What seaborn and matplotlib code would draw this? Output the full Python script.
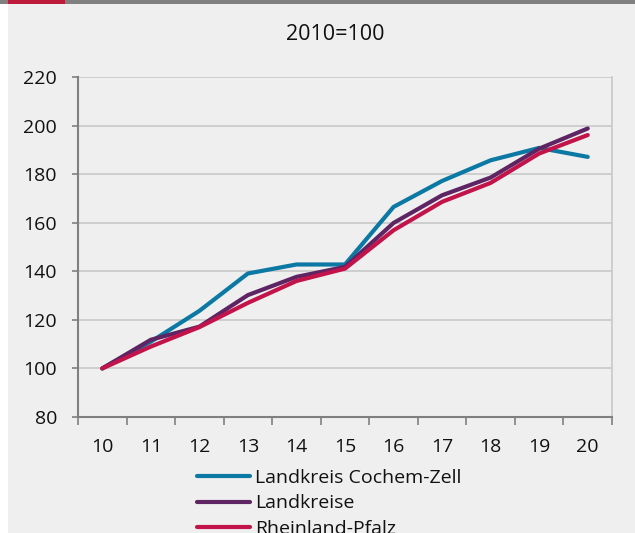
import matplotlib
matplotlib.use("Agg")
import matplotlib.pyplot as plt
from matplotlib.patches import Rectangle
from matplotlib.ticker import FixedLocator
import numpy as np
import pandas as pd
import seaborn as sns

# Index values, 2010 = 100
years = ["10", "11", "12", "13", "14", "15", "16", "17", "18", "19", "20"]
cochem_zell = [100, 111, 123.7, 139.1, 142.8, 142.8, 166.5, 177.2, 185.7, 190.8, 187.1]
landkreise = [100, 111.8, 117.2, 130.2, 137.7, 141.8, 159.9, 171.3, 178.6, 190.5, 198.8]
rheinland_pfalz = [100, 109.0, 117.0, 127.0, 136.0, 141.1, 156.9, 168.6, 176.4, 188.5, 196.1]

series_names = ["Landkreis Cochem-Zell", "Landkreise", "Rheinland-Pfalz"]
series_colors = ["#0C79A4", "#5E2463", "#C2144A"]
y_ticks = [80, 100, 120, 140, 160, 180, 200, 220]

df = pd.DataFrame({
    "pos": list(range(len(years))) * 3,
    "value": cochem_zell + landkreise + rheinland_pfalz,
    "series": [series_names[0]] * len(years) + [series_names[1]] * len(years)
              + [series_names[2]] * len(years),
})

sns.set_theme(style="white")
plt.rcParams["font.family"] = ["Open Sans", "DejaVu Sans"]

bg = "#EEEFEE"
W, H = 635, 533
fig = plt.figure(figsize=(W / 100, H / 100), dpi=100, facecolor="white")

# panel background and header bar
fig.patches.append(Rectangle((8 / W, 0), 1 - 8 / W, 1, transform=fig.transFigure,
                             facecolor=bg, edgecolor="none", zorder=-10))
fig.patches.append(Rectangle((0, 1 - 4 / H), 1, 4 / H, transform=fig.transFigure,
                             facecolor="#808080", edgecolor="none", zorder=-5))
fig.patches.append(Rectangle((8 / W, 1 - 4 / H), 57 / W, 4 / H, transform=fig.transFigure,
                             facecolor="#BE1A3C", edgecolor="none", zorder=-4))

ax = fig.add_axes([78 / W, 1 - 417 / H, (612 - 78) / W, (417 - 77) / H])
ax.set_facecolor(bg)

sns.lineplot(data=df, x="pos", y="value", hue="series", hue_order=series_names,
             palette=series_colors, linewidth=3.0, ax=ax, legend=True,
             solid_capstyle="round")

ax.set_xlim(-0.5, len(years) - 0.5)
ax.set_ylim(80, 220)
ax.set_yticks(y_ticks)
ax.set_xticks(range(len(years)))
ax.set_xticklabels(years)
ax.xaxis.set_minor_locator(FixedLocator(np.arange(-0.5, len(years), 1.0)))
ax.set_xlabel("")
ax.set_ylabel("")

ax.grid(axis="y", color="#C8C8C8", linewidth=1.2)
ax.set_axisbelow(True)
ax.spines["top"].set_visible(False)
ax.spines["right"].set_color("#C8C8C8")
ax.spines["right"].set_linewidth(1.2)
ax.spines["left"].set_color("#808080")
ax.spines["left"].set_linewidth(1.5)
ax.spines["bottom"].set_color("#808080")
ax.spines["bottom"].set_linewidth(1.5)

ax.tick_params(axis="y", which="major", length=4.5, width=1.2, color="#808080",
               labelsize=14, labelcolor="#111111", pad=10.5, left=True)
ax.tick_params(axis="x", which="major", length=0, labelsize=14, labelcolor="#111111", pad=15)
ax.tick_params(axis="x", which="minor", length=6, width=1.2, color="#808080", bottom=True)

fig.text(335 / W, 1 - 34 / H, "2010=100", ha="center", va="center",
         fontsize=15.5, color="#111111")

handles, labels = ax.get_legend_handles_labels()
ax.get_legend().remove()
fig.legend(handles, labels, loc="upper left", bbox_to_anchor=(197 / W, 1 - 469 / H),
           frameon=False, fontsize=14, handlelength=2.75, handletextpad=0.25,
           labelspacing=0.38, borderaxespad=0, borderpad=0, labelcolor="#111111")

fig.savefig("out.png", dpi=100, facecolor="white")
